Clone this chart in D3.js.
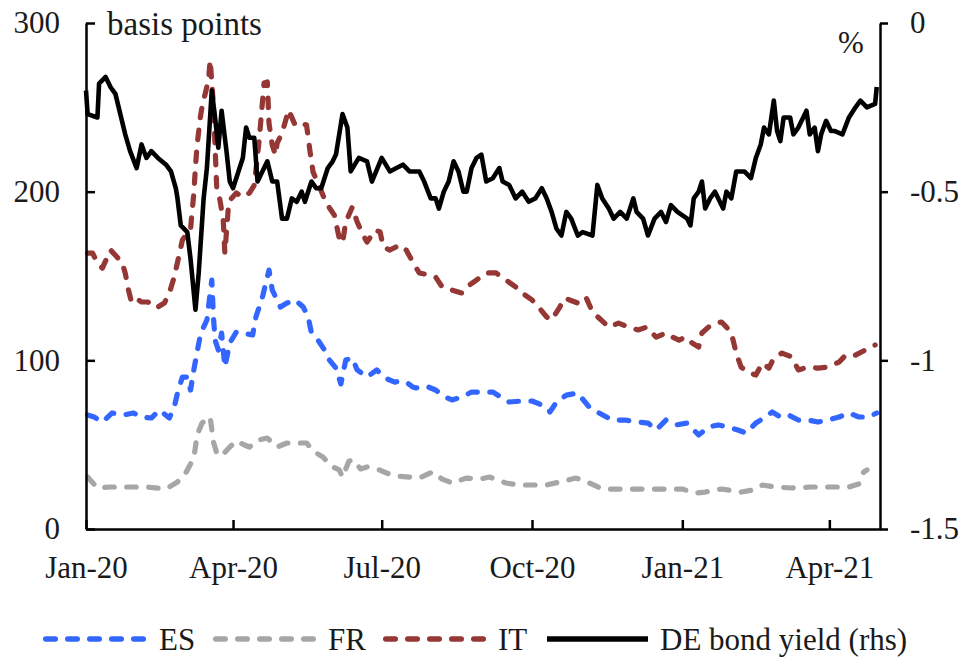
<!DOCTYPE html>
<html>
<head>
<meta charset="utf-8">
<script src="https://cdn.jsdelivr.net/npm/d3@7"></script>
<style>
  html, body { margin: 0; padding: 0; background: #fff; }
  svg { display: block; }
  text { font-family: "Liberation Serif", "Times New Roman", serif; fill: #1a1a1a; }
</style>
</head>
<body>
<svg id="chart" width="961" height="657"></svg>
<script>
// ---- Data: 10-year spreads over Bunds (basis points) and the Bund yield (%) ----
const esDates = [
  "2020-01-03","2020-01-07","2020-01-12","2020-01-18","2020-01-25","2020-01-31",
  "2020-02-05","2020-02-11","2020-02-16","2020-02-22","2020-02-25","2020-02-27",
  "2020-03-01","2020-03-04","2020-03-06","2020-03-08","2020-03-10","2020-03-12","2020-03-14","2020-03-16","2020-03-18","2020-03-19","2020-03-20","2020-03-21","2020-03-23","2020-03-25","2020-03-27","2020-03-30",
  "2020-04-03","2020-04-07","2020-04-13","2020-04-15","2020-04-19","2020-04-23","2020-04-25","2020-04-30",
  "2020-05-04","2020-05-09","2020-05-14","2020-05-17","2020-05-19","2020-05-23","2020-05-27","2020-05-30",
  "2020-06-03","2020-06-06","2020-06-09","2020-06-13","2020-06-16","2020-06-22","2020-06-28",
  "2020-07-03","2020-07-09","2020-07-12","2020-07-16","2020-07-20","2020-07-22","2020-07-28",
  "2020-08-03","2020-08-09","2020-08-13","2020-08-19","2020-08-25","2020-08-30",
  "2020-09-07","2020-09-17","2020-09-25",
  "2020-10-01","2020-10-10","2020-10-12","2020-10-16","2020-10-22","2020-10-29",
  "2020-11-05","2020-11-11","2020-11-19","2020-11-27",
  "2020-12-05","2020-12-11","2020-12-16","2020-12-22","2020-12-28",
  "2021-01-04","2021-01-11","2021-01-17","2021-01-23","2021-01-29",
  "2021-02-04","2021-02-09","2021-02-15","2021-02-21","2021-02-25",
  "2021-03-02","2021-03-07","2021-03-13","2021-03-19","2021-03-25","2021-03-31",
  "2021-04-07","2021-04-13","2021-04-19","2021-04-25","2021-04-30"
];
const esValues = [
  67.6, 66.4, 63.4, 68.8, 67.6, 68.8,
  66.4, 65.8, 70.5, 65.8, 72.3, 80.6,
  90.1, 90.1, 82.4, 94.3, 104.9, 115.0, 119.7, 123.9, 139.9, 147.6, 125.7, 112.0, 106.1, 116.2, 96.0, 110.3,
  116.8, 116.2, 115.0, 125.7, 137.5, 153.5, 141.7, 131.6,
  134.0, 135.8, 131.6, 125.7, 116.2, 112.0, 106.1, 100.2,
  95.4, 86.0, 100.2, 101.4, 94.3, 90.1, 94.3,
  89.5, 87.1, 87.7, 87.1, 84.2, 83.6, 84.8,
  82.4, 78.2, 76.5, 78.2, 81.2, 81.2,
  81.2, 75.3, 75.9,
  75.9, 72.3, 69.4, 75.3, 79.4, 80.6,
  72.3, 68.8, 64.6, 64.6,
  63.4, 62.8, 58.7, 64.6, 61.7,
  62.8, 55.7, 60.5, 61.7, 60.5,
  58.7, 56.9, 62.8, 66.4, 69.4,
  66.4, 67.6, 64.6, 64.6, 63.4, 64.6,
  66.4, 68.8, 66.4, 66.4, 68.8
];

const frDates = [
  "2020-01-03","2020-01-09","2020-01-17","2020-01-27",
  "2020-02-08","2020-02-20","2020-02-27",
  "2020-03-03","2020-03-08","2020-03-10","2020-03-13","2020-03-18","2020-03-20","2020-03-22","2020-03-25","2020-03-30",
  "2020-04-03","2020-04-08","2020-04-11","2020-04-17","2020-04-22","2020-04-28",
  "2020-05-04","2020-05-10","2020-05-16","2020-05-20","2020-05-26","2020-05-31",
  "2020-06-05","2020-06-07","2020-06-11","2020-06-14","2020-06-18","2020-06-22","2020-06-28",
  "2020-07-04","2020-07-10","2020-07-18","2020-07-24",
  "2020-08-01","2020-08-07","2020-08-13","2020-08-22","2020-08-30",
  "2020-09-05","2020-09-15","2020-09-23",
  "2020-10-03","2020-10-10","2020-10-18","2020-10-28",
  "2020-11-05","2020-11-13","2020-11-23",
  "2020-12-05","2020-12-18",
  "2021-01-01","2021-01-09","2021-01-15","2021-01-25",
  "2021-02-06","2021-02-13","2021-02-19","2021-02-27",
  "2021-03-09","2021-03-21","2021-03-31",
  "2021-04-13","2021-04-19","2021-04-22","2021-04-24"
];
const frValues = [
  30.8, 24.3, 24.9, 24.9,
  24.9, 23.7, 27.9,
  33.2, 42.1, 55.7, 62.8, 66.4, 51.6, 45.1, 43.3, 48.6,
  52.2, 49.8, 48.6, 52.8, 53.9, 48.6,
  51.0, 51.0, 51.0, 46.2, 42.7, 37.3,
  35.0, 30.8, 40.3, 40.9, 35.6, 36.8, 35.6,
  33.2, 31.4, 30.8, 30.2,
  33.8, 29.6, 27.3, 30.2, 29.6,
  30.8, 27.3, 26.1,
  26.1, 26.1, 27.9, 30.2,
  27.3, 23.7, 23.7,
  23.7, 23.7,
  23.7, 21.3, 21.9, 23.7,
  21.9, 23.1, 26.1, 24.9,
  24.3, 24.9, 24.9,
  24.9, 26.7, 33.8, 35.0
];

const itDates = [
  "2020-01-03","2020-01-06","2020-01-09","2020-01-12","2020-01-17","2020-01-21","2020-01-24","2020-01-26","2020-01-28","2020-01-30",
  "2020-02-03","2020-02-05","2020-02-09","2020-02-12","2020-02-15","2020-02-19","2020-02-22","2020-02-25","2020-02-28",
  "2020-03-01","2020-03-04","2020-03-06","2020-03-08","2020-03-09","2020-03-10","2020-03-12","2020-03-13","2020-03-17","2020-03-18","2020-03-20","2020-03-22","2020-03-24","2020-03-26","2020-03-27","2020-03-29","2020-03-30",
  "2020-04-03","2020-04-07","2020-04-11","2020-04-14","2020-04-17","2020-04-20","2020-04-22","2020-04-23","2020-04-25","2020-04-27","2020-04-28",
  "2020-05-01","2020-05-05","2020-05-09","2020-05-12","2020-05-16","2020-05-18","2020-05-20","2020-05-24","2020-05-28",
  "2020-06-02","2020-06-05","2020-06-07","2020-06-09","2020-06-13","2020-06-16","2020-06-19","2020-06-22","2020-06-27","2020-06-30",
  "2020-07-02","2020-07-06","2020-07-12","2020-07-16","2020-07-20","2020-07-24","2020-07-30",
  "2020-08-03","2020-08-07","2020-08-13","2020-08-19","2020-08-22","2020-08-28",
  "2020-09-03","2020-09-09","2020-09-15","2020-09-21","2020-09-25",
  "2020-10-01","2020-10-05","2020-10-10","2020-10-13","2020-10-18","2020-10-21","2020-10-24","2020-10-29",
  "2020-11-03","2020-11-07","2020-11-11","2020-11-17","2020-11-23","2020-11-29",
  "2020-12-05","2020-12-10","2020-12-16","2020-12-22","2020-12-26","2020-12-30",
  "2021-01-03","2021-01-07","2021-01-11","2021-01-13","2021-01-17","2021-01-22","2021-01-25","2021-01-28","2021-01-31",
  "2021-02-03","2021-02-06","2021-02-11","2021-02-15","2021-02-19","2021-02-23","2021-02-26",
  "2021-03-03","2021-03-09","2021-03-13","2021-03-19","2021-03-25","2021-03-31",
  "2021-04-07","2021-04-11","2021-04-17","2021-04-23","2021-04-29"
];
const itValues = [
  163.6, 163.6, 157.7, 154.7, 165.4, 161.2, 158.3, 151.8, 141.7, 134.0,
  135.8, 134.6, 134.6, 131.6, 131.6, 134.0, 139.9, 149.4, 162.4,
  171.3, 175.5, 177.8, 199.2, 214.6, 227.6, 244.2, 250.2, 266.2, 278.0, 251.3, 202.7, 195.0, 183.2, 163.6, 189.1, 195.0,
  199.2, 196.8, 199.2, 203.9, 230.6, 264.4, 265.0, 240.7, 227.6, 221.7, 228.8,
  234.7, 248.4, 239.5, 240.7, 239.5, 224.7, 211.6, 202.7, 193.3,
  186.1, 172.5, 169.5, 182.0, 190.9, 182.0, 175.5, 170.1, 177.2, 176.1,
  167.2, 165.4, 168.4, 165.4, 158.3, 151.8, 150.6,
  149.4, 143.5, 141.7, 139.9, 143.5, 147.6,
  151.8, 151.8, 147.6, 143.5, 139.9,
  135.8, 131.6, 125.7, 123.9, 131.6, 136.9, 135.8, 134.0,
  137.5, 128.6, 125.1, 119.7, 122.1, 119.7,
  118.0, 119.7, 113.8, 116.2, 113.8, 112.0,
  113.8, 110.3, 107.9, 116.2, 119.7, 122.1, 122.7, 119.7, 116.2,
  104.3, 96.0, 92.5, 91.3, 98.4, 95.4, 101.4,
  104.3, 102.0, 94.3, 96.0, 95.4, 96.0,
  99.0, 103.1, 103.1, 106.1, 109.1
];

const deDates = [
  "2020-01-02","2020-01-03","2020-01-09","2020-01-10","2020-01-14","2020-01-17","2020-01-20","2020-01-26","2020-01-29",
  "2020-02-02","2020-02-05","2020-02-08","2020-02-11","2020-02-15","2020-02-20","2020-02-23","2020-02-26","2020-02-27","2020-02-29",
  "2020-03-04","2020-03-06","2020-03-09","2020-03-11","2020-03-14","2020-03-16","2020-03-19","2020-03-21","2020-03-23","2020-03-25","2020-03-28","2020-03-30",
  "2020-04-01","2020-04-05","2020-04-07","2020-04-09","2020-04-11","2020-04-14","2020-04-16","2020-04-22","2020-04-25","2020-04-28",
  "2020-05-01","2020-05-04","2020-05-07","2020-05-10","2020-05-13","2020-05-15","2020-05-19","2020-05-22","2020-05-25","2020-05-29",
  "2020-06-01","2020-06-03","2020-06-07","2020-06-10","2020-06-12","2020-06-17","2020-06-22","2020-06-25",
  "2020-07-01","2020-07-06","2020-07-10","2020-07-14","2020-07-18","2020-07-24","2020-07-27","2020-07-31",
  "2020-08-03","2020-08-05","2020-08-08","2020-08-11","2020-08-14","2020-08-17","2020-08-20","2020-08-22","2020-08-25","2020-08-28","2020-08-31",
  "2020-09-03","2020-09-07","2020-09-11","2020-09-13","2020-09-17","2020-09-21","2020-09-25","2020-09-29",
  "2020-10-03","2020-10-07","2020-10-10","2020-10-13","2020-10-16","2020-10-19","2020-10-22","2020-10-25","2020-10-29",
  "2020-11-01","2020-11-07","2020-11-10","2020-11-13","2020-11-17","2020-11-20","2020-11-24","2020-11-28",
  "2020-12-02","2020-12-04","2020-12-08","2020-12-11","2020-12-15","2020-12-19","2020-12-22","2020-12-25","2020-12-29",
  "2021-01-04","2021-01-06","2021-01-08","2021-01-11","2021-01-13","2021-01-15","2021-01-18","2021-01-21","2021-01-23","2021-01-26","2021-01-28","2021-01-31",
  "2021-02-03","2021-02-08","2021-02-12","2021-02-15","2021-02-18","2021-02-20","2021-02-23","2021-02-26","2021-02-28",
  "2021-03-02","2021-03-04","2021-03-08","2021-03-10","2021-03-13","2021-03-18","2021-03-20","2021-03-23","2021-03-25","2021-03-27","2021-03-30",
  "2021-04-02","2021-04-04","2021-04-09","2021-04-13","2021-04-17","2021-04-20","2021-04-24","2021-04-29","2021-04-30"
];
const deValues = [
  -0.20, -0.27, -0.28, -0.18, -0.16, -0.19, -0.21, -0.33, -0.38,
  -0.43, -0.36, -0.40, -0.38, -0.40, -0.42, -0.44, -0.49, -0.52, -0.60,
  -0.62, -0.70, -0.85, -0.74, -0.52, -0.43, -0.20, -0.28, -0.37, -0.26, -0.38, -0.47,
  -0.49, -0.43, -0.40, -0.31, -0.34, -0.34, -0.47, -0.41, -0.47, -0.47,
  -0.58, -0.58, -0.52, -0.53, -0.50, -0.53, -0.47, -0.49, -0.49, -0.43,
  -0.41, -0.39, -0.27, -0.31, -0.44, -0.40, -0.41, -0.47,
  -0.40, -0.44, -0.43, -0.42, -0.44, -0.44, -0.47, -0.52,
  -0.52, -0.55, -0.50, -0.47, -0.41, -0.44, -0.50, -0.50, -0.43, -0.40, -0.39,
  -0.47, -0.46, -0.43, -0.47, -0.48, -0.52, -0.50, -0.53,
  -0.52, -0.49, -0.52, -0.56, -0.61, -0.63, -0.56, -0.58, -0.63,
  -0.62, -0.63, -0.48, -0.52, -0.55, -0.58, -0.56, -0.58,
  -0.52, -0.56, -0.58, -0.63, -0.58, -0.56, -0.59, -0.54, -0.56,
  -0.58, -0.60, -0.52, -0.50, -0.47, -0.55, -0.52, -0.50, -0.52, -0.55, -0.50, -0.52,
  -0.44, -0.44, -0.46, -0.40, -0.36, -0.31, -0.33, -0.23, -0.32,
  -0.35, -0.28, -0.28, -0.33, -0.31, -0.26, -0.33, -0.31, -0.38, -0.33, -0.29,
  -0.32, -0.32, -0.33, -0.28, -0.25, -0.23, -0.25, -0.24, -0.19
];

// Axis ticks
const xTickDates = ["2020-01-02","2020-04-01","2020-07-01","2020-10-01","2021-01-01","2021-04-01"];
const xTickLabels = ["Jan-20","Apr-20","Jul-20","Oct-20","Jan-21","Apr-21"];
const leftTicks = [0, 100, 200, 300];
const rightTicks = [0, -0.5, -1, -1.5];
const rightTickLabels = ["0", "-0.5", "-1", "-1.5"];

// Legend entries
const legendLabels = ["ES", "FR", "IT", "DE bond yield (rhs)"];

// ---- Layout ----
const parse = d3.timeParse("%Y-%m-%d");
const plot = { left: 86, right: 880, top: 23, bottom: 529 };
const FONT = 31;
const DASH = "9.5,12.5";

const svg = d3.select("#chart");

const x = d3.scaleTime()
  .domain([parse("2020-01-02"), parse("2021-05-02")])
  .range([plot.left, plot.right]);
const yL = d3.scaleLinear().domain([0, 300]).range([plot.bottom, plot.top]);
const yR = d3.scaleLinear().domain([-1.5, 0]).range([plot.bottom, plot.top]);

const toSeries = (dates, values) => dates.map((d, i) => ({ date: parse(d), v: values[i] }));

const series = [
  { name: "ES", data: toSeries(esDates, esValues), color: "#3366ff", dash: DASH, y: yL },
  { name: "FR", data: toSeries(frDates, frValues), color: "#a6a6a6", dash: DASH, y: yL },
  { name: "IT", data: toSeries(itDates, itValues), color: "#953735", dash: DASH, y: yL },
  { name: "DE", data: toSeries(deDates, deValues), color: "#000000", dash: null, y: yR }
];

// ---- Lines ----
const gLines = svg.append("g");
series.forEach(s => {
  const line = d3.line().x(d => x(d.date)).y(d => s.y(d.v));
  gLines.append("path")
    .datum(s.data)
    .attr("fill", "none")
    .attr("stroke", s.color)
    .attr("stroke-width", s.dash ? 5.2 : 4.6)
    .attr("stroke-linejoin", "round")
    .attr("stroke-linecap", s.dash ? "round" : "butt")
    .attr("stroke-dasharray", s.dash)
    .attr("d", line);
});

// ---- Axes ----
function styleAxis(g) {
  g.selectAll("path.domain").attr("stroke", "#000").attr("stroke-width", 2.5);
  g.selectAll(".tick line").attr("stroke", "#000").attr("stroke-width", 2.5);
  g.selectAll("text")
    .attr("font-family", "'Liberation Serif', 'Times New Roman', serif")
    .attr("font-size", FONT)
    .attr("fill", "#1a1a1a");
}

svg.append("g")
  .attr("transform", `translate(${plot.left},0)`)
  .call(d3.axisLeft(yL).tickValues(leftTicks).tickSize(-9).tickSizeOuter(0).tickPadding(26)
    .tickFormat(d => String(d)))
  .call(styleAxis);

svg.append("g")
  .attr("transform", `translate(${plot.right},0)`)
  .call(d3.axisRight(yR).tickValues(rightTicks).tickSize(8).tickSizeOuter(0).tickPadding(22)
    .tickFormat((d, i) => rightTickLabels[i]))
  .call(styleAxis);

svg.append("g")
  .attr("transform", `translate(0,${plot.bottom})`)
  .call(d3.axisBottom(x).tickValues(xTickDates.map(parse)).tickSize(-9).tickSizeOuter(0).tickPadding(27)
    .tickFormat((d, i) => xTickLabels[i]))
  .call(styleAxis);

// Unit labels
svg.append("text").attr("x", 107).attr("y", 35).attr("font-size", 33).text("basis points");
svg.append("text").attr("x", 838).attr("y", 53).attr("font-size", FONT).text("%");

// ---- Legend ----
const legendItems = [
  { x0: 43, x1: 148, tx: 159 },
  { x0: 213, x1: 320, tx: 328 },
  { x0: 383, x1: 486, tx: 498 },
  { x0: 547, x1: 648, tx: 660 }
];
const gLeg = svg.append("g");
legendItems.forEach((it, i) => {
  const s = series[i];
  gLeg.append("line")
    .attr("x1", it.x0 + (s.dash ? 2.75 : 0)).attr("x2", it.x1)
    .attr("y1", 639).attr("y2", 639)
    .attr("stroke", s.color)
    .attr("stroke-width", 5.5)
    .attr("stroke-linecap", s.dash ? "round" : "butt")
    .attr("stroke-dasharray", s.dash);
  gLeg.append("text")
    .attr("x", it.tx).attr("y", 650)
    .attr("font-size", FONT)
    .text(legendLabels[i]);
});
</script>
</body>
</html>
